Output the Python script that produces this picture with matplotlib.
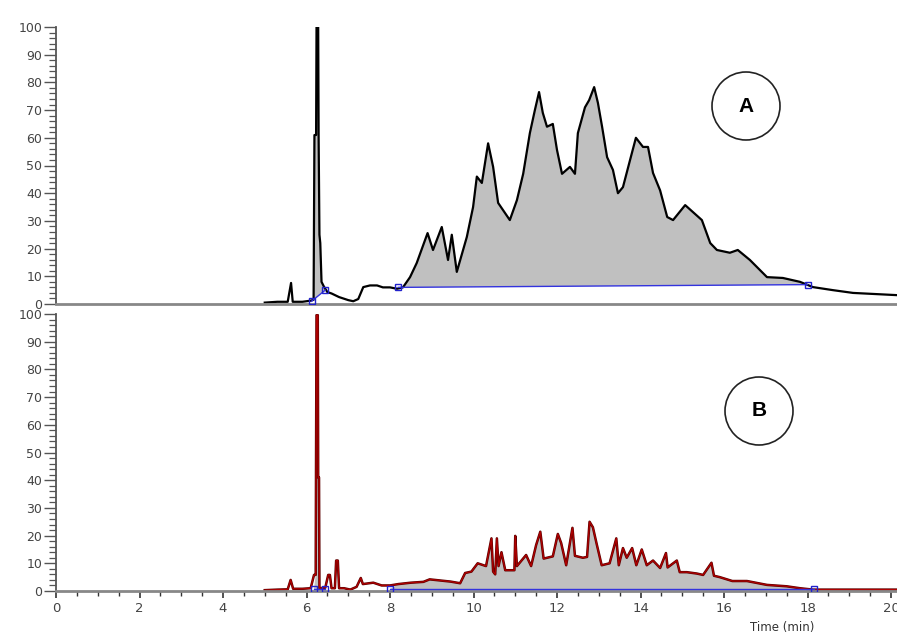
import numpy as np
import matplotlib
matplotlib.use("Agg")
import matplotlib.pyplot as plt
from matplotlib.patches import Circle
from matplotlib.ticker import MultipleLocator

# ---------------- data ----------------
a_time = [5.0, 5.3, 5.55, 5.63, 5.67, 5.9, 6.1, 6.17, 6.19, 6.23, 6.24, 6.28, 6.29, 6.31,
          6.33, 6.36, 6.42, 6.5, 6.6, 6.78, 7.0, 7.12, 7.24, 7.36, 7.52, 7.69, 7.83, 8.0,
          8.17, 8.31, 8.48, 8.64, 8.9, 9.03, 9.24, 9.39, 9.48, 9.6, 9.84, 9.99, 10.08, 10.2,
          10.35, 10.47, 10.59, 10.87, 11.04, 11.19, 11.35, 11.47, 11.57, 11.66, 11.76, 11.9,
          12.0, 12.12, 12.31, 12.43, 12.5, 12.67, 12.77, 12.89, 12.98, 13.08, 13.2, 13.34,
          13.46, 13.58, 13.75, 13.89, 14.06, 14.18, 14.3, 14.47, 14.64, 14.78, 15.07, 15.47,
          15.67, 15.83, 16.14, 16.33, 16.62, 17.03, 17.41, 17.82, 18.13, 18.61, 19.09, 20.14]
a_value = [0.5, 0.8, 0.8, 7.6, 0.8, 0.8, 1.2, 1.5, 61, 61, 100, 100, 61, 25,
           22, 8, 6.2, 4.3, 3.8, 2.5, 1.4, 1.0, 1.8, 6.1, 6.7, 6.7, 6.0, 6.0,
           5.5, 6.0, 9.7, 14.8, 25.6, 19.5, 27.8, 15.9, 25, 11.6, 24.2, 35, 46, 43.7,
           58, 49.5, 36.5, 30.3, 37.5, 47, 61.7, 70, 76.5, 69, 64, 65,
           55.6, 47, 49.5, 47, 61.7, 71, 73.6, 78.3, 72.6, 64, 53, 48.4,
           40, 42.2, 52, 60, 56.7, 56.7, 47.3, 41, 31.4, 30.3, 35.7, 30.3,
           22, 19.5, 18.5, 19.5, 15.9, 9.7, 9.4, 8.0, 6.1, 5.0, 4.0, 3.2]

b_time = [5.0, 5.3, 5.55, 5.62, 5.68, 5.9, 6.1, 6.18, 6.22, 6.24, 6.27, 6.28, 6.30, 6.31,
          6.45, 6.52, 6.56, 6.6, 6.68, 6.71, 6.75, 6.78, 6.9, 7.05, 7.2, 7.3, 7.35, 7.6,
          7.8, 8.0, 8.2, 8.5, 8.8, 8.95, 9.2, 9.45, 9.68, 9.8, 9.95, 10.1, 10.3, 10.43,
          10.47, 10.52, 10.56, 10.6, 10.67, 10.76, 10.98, 11.0, 11.04, 11.26, 11.38, 11.5,
          11.6, 11.68, 11.9, 12.02, 12.1, 12.22, 12.37, 12.43, 12.62, 12.72, 12.78, 12.86,
          12.95, 13.07, 13.26, 13.42, 13.48, 13.58, 13.67, 13.8, 13.9, 14.03, 14.15, 14.3,
          14.47, 14.61, 14.65, 14.87, 14.94, 15.11, 15.35, 15.5, 15.7, 15.76, 15.9, 16.2,
          16.55, 17.03, 17.5, 17.82, 18.13, 18.6, 20.14]
b_value = [0.3, 0.5, 0.6, 4.0, 0.8, 0.8, 1.0, 5.8, 5.8, 99.6, 99.6, 41, 41, 1.0,
           1.2, 5.8, 5.8, 1.0, 1.0, 11, 11, 1.0, 1.0, 0.5, 1.5, 4.7, 2.5, 3.0,
           2.0, 2.0, 2.5, 3.0, 3.3, 4.2, 3.8, 3.4, 2.8, 6.5, 7.0, 10, 9, 19,
           7, 6, 19, 9, 14, 7.5, 7.5, 19.9, 9, 13, 9, 16.6,
           21.4, 11.7, 12.5, 20.6, 17.3, 9.3, 22.8, 12.7, 12.0, 12.3, 25, 23,
           17, 9.3, 10, 19, 9.3, 15.5, 12, 15.5, 9.3, 15, 9.3, 11,
           8.3, 13.7, 8.5, 11, 6.8, 6.8, 6.3, 5.8, 10.2, 5.5, 5.0, 3.6,
           3.6, 2.2, 1.7, 1.0, 0.5, 0.5, 0.5]

# integration baselines: (start time, start value, end time, end value)
a_baselines = [(6.12, 1.0, 6.45, 5.0), (8.2, 6.0, 18.0, 7.0)]
b_baselines = [(6.18, 0.7, 6.45, 0.7), (8.0, 0.7, 18.15, 0.7)]

y_ticks = list(range(0, 101, 10))
x_ticks = list(range(0, 21, 2))
panel_labels = ["A", "B"]

# ---------------- figure ----------------
W, H = 897, 633
fig = plt.figure(figsize=(W / 100, H / 100), dpi=100)
plt.rcParams['font.family'] = ['DejaVu Sans']

left = 56 / W
width = 1 - left
ax_a = fig.add_axes([left, 1 - 304 / H, width, 277 / H])
ax_b = fig.add_axes([left, 1 - 591 / H, width, 277 / H])

tick_color = '#444444'


def fill_peaks(ax, t, v, baselines):
    t = np.asarray(t)
    v = np.asarray(v)
    for (t0, b0, t1, b1) in baselines:
        m = (t > t0) & (t < t1)
        px = np.concatenate([[t0], t[m], [t1]])
        py = np.concatenate([[b0], v[m], [b1]])
        ax.fill(px, py, color='#c0c0c0', lw=0, zorder=1)
        ax.plot([t0, t1], [b0, b1], color='#3333dd', lw=1.0, zorder=3)
        ax.plot([t0, t1], [b0, b1], ls='none', marker='s', ms=4, mfc='none',
                mec='#2222cc', mew=1.0, zorder=4)


fill_peaks(ax_a, a_time, a_value, a_baselines)
ax_a.plot(a_time, a_value, color='black', lw=1.6, zorder=2)

fill_peaks(ax_b, b_time, b_value, b_baselines)
ax_b.plot(b_time, b_value, color='#5a0000', lw=1.8, zorder=2)
ax_b.plot(b_time, b_value, color='#b00000', lw=0.9, zorder=2)

for ax in (ax_a, ax_b):
    ax.set_xlim(0, (W - 56) / ((891 - 56) / 20))
    ax.set_ylim(0, 100)
    for s in ('top', 'right'):
        ax.spines[s].set_visible(False)
    ax.spines['left'].set_color('#555555')
    ax.spines['left'].set_linewidth(1.3)
    ax.spines['bottom'].set_color('#888888')
    ax.spines['bottom'].set_linewidth(2.0)
    ax.set_yticks(y_ticks)
    ax.yaxis.set_minor_locator(MultipleLocator(2))
    ax.tick_params(axis='y', which='major', length=9, width=1.0, color='#555555',
                   labelsize=9, labelcolor=tick_color, pad=1)
    ax.tick_params(axis='y', which='minor', length=5, width=0.9, color='#555555')
    ax.patch.set_alpha(0)

ax_a.tick_params(axis='x', which='both', bottom=False, labelbottom=False)
ax_b.set_xticks(x_ticks)
ax_b.xaxis.set_minor_locator(MultipleLocator(0.5))
ax_b.tick_params(axis='x', which='major', length=5, width=1.2, color='#333333',
                 labelsize=9.5, labelcolor=tick_color, pad=3)
ax_b.tick_params(axis='x', which='minor', length=3.5, width=1.0, color='#333333')

fig.text(782 / W, 1 - 627 / H, "Time (min)", ha='center', va='center',
         fontsize=8.5, color='#333333')

# panel labels in circles
for lab, (cx, cy) in zip(panel_labels, [(746, 106), (759, 411)]):
    c = Circle((cx / 100, (H - cy) / 100), 0.34, transform=fig.dpi_scale_trans,
               fill=False, ec='#222222', lw=1.2)
    fig.add_artist(c)
    fig.text(cx / W, 1 - cy / H, lab, ha='center', va='center', fontsize=15,
             fontweight='bold', color='black', family='Liberation Sans')

fig.savefig("out.png", dpi=100)
